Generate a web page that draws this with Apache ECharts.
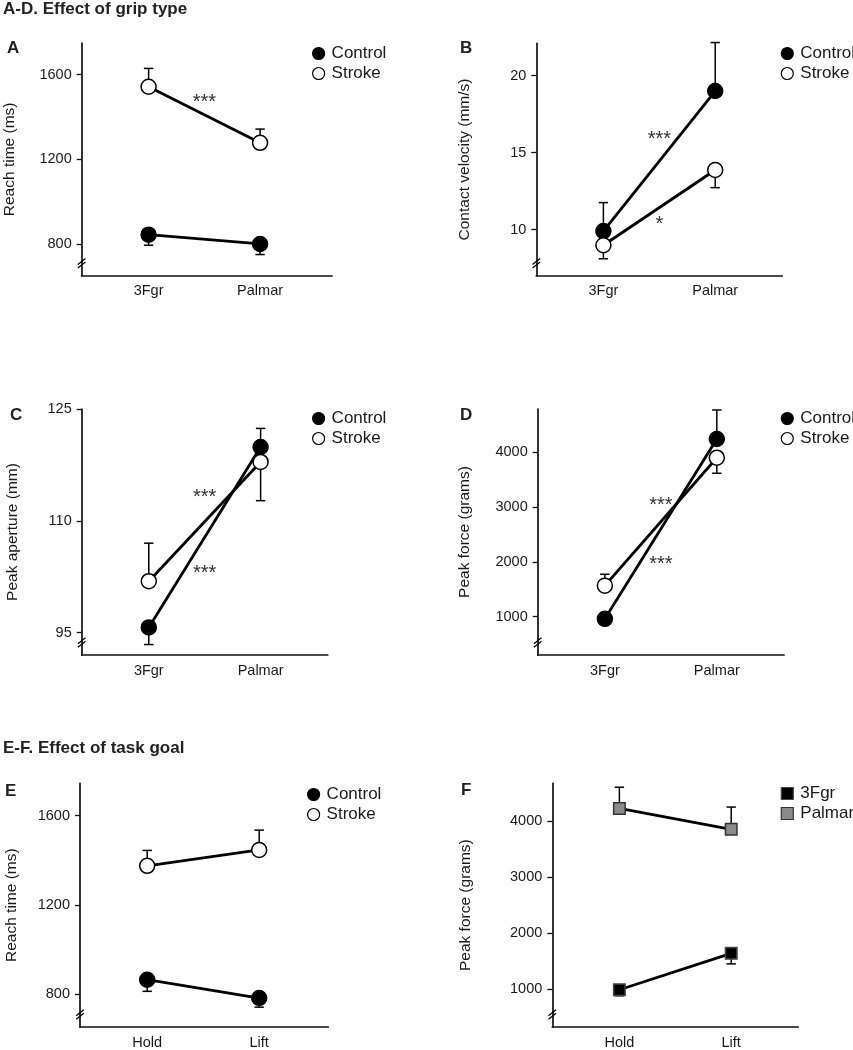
<!DOCTYPE html>
<html><head><meta charset="utf-8">
<script src="https://cdn.jsdelivr.net/npm/echarts@6/dist/echarts.min.js"></script>
<style>html,body{margin:0;padding:0;background:#fff}#c{width:853px;height:1050px}</style>
</head><body><div id="c"></div>
<script>
// ---------- data ----------
const gripCats = ['3Fgr', 'Palmar'];
const goalCats = ['Hold', 'Lift'];

// A. Reach time (ms) by grip
const aControl = [844, 800];    const aControlErr = [794, 750];
const aStroke  = [1543, 1278];  const aStrokeErr  = [1630, 1343];
const aTicks = [800, 1200, 1600];
const aStars = [[0.5, 1490, '***']];

// B. Contact velocity (mm/s) by grip
const bControl = [9.9, 19.0];   const bControlErr = [11.75, 22.15];
const bStroke  = [8.98, 13.87]; const bStrokeErr  = [8.1, 12.72];
const bTicks = [10, 15, 20];
const bStars = [[0.5, 16.15, '***'], [0.5, 10.6, '*']];

// C. Peak aperture (mm) by grip
const cControl = [95.7, 119.9]; const cControlErr = [93.4, 122.4];
const cStroke  = [101.9, 117.9];const cStrokeErr  = [107.0, 112.7];
const cTicks = [95, 110, 125];
const cStars = [[0.5, 113.8, '***'], [0.5, 103.5, '***']];

// D. Peak force (grams) by grip
const dControl = [960, 4243];   const dControlErr = [960, 4772];
const dStroke  = [1566, 3901];  const dStrokeErr  = [1774, 3617];
const dTicks = [1000, 2000, 3000, 4000];
const dStars = [[0.5, 3115, '***'], [0.5, 2036, '***']];

// E. Reach time (ms) by task goal
const eControl = [864, 782];    const eControlErr = [812, 741];
const eStroke  = [1375, 1446];  const eStrokeErr  = [1444, 1535];
const eTicks = [800, 1200, 1600];

// F. Peak force (grams) by task goal, per grip
const f3Fgr   = [988, 1638];    const f3FgrErr   = [880, 1450];
const fPalmar = [4230, 3858];   const fPalmarErr = [4610, 4255];
const fTicks = [1000, 2000, 3000, 4000];

// ---------- layout ----------
const FONT = 'Liberation Sans, Arial, Helvetica, sans-serif';
const TXT = '#1a1a1a';
const panels = [
  {id:'A', left:81.7, top:43,   width:250.3, height:232.7, yMin:650, yMax:1750, xMax:1.645, cats:gripCats, ticks:aTicks, name:'Reach time (ms)', nameGap:64, stars:aStars, letter:[2,35], legend:[307,40],
   series:[{name:'Control', v:aControl, e:aControlErr, kind:'ctrl'},{name:'Stroke', v:aStroke, e:aStrokeErr, kind:'stroke'}]},
  {id:'B', left:536.3, top:43.3, width:246, height:232.4, yMin:7, yMax:22.1, xMax:1.6, cats:gripCats, ticks:bTicks, name:'Contact velocity (mm/s)', nameGap:64, stars:bStars, letter:[455,35], legend:[775.7,40],
   series:[{name:'Control', v:bControl, e:bControlErr, kind:'ctrl'},{name:'Stroke', v:bStroke, e:bStrokeErr, kind:'stroke'}]},
  {id:'C', left:81.7, top:409, width:246, height:246, yMin:92, yMax:125, xMax:1.6, cats:gripCats, ticks:cTicks, name:'Peak aperture (mm)', nameGap:61, stars:cStars, letter:[5,402], legend:[307,405],
   series:[{name:'Control', v:cControl, e:cControlErr, kind:'ctrl'},{name:'Stroke', v:cStroke, e:cStrokeErr, kind:'stroke'}]},
  {id:'D', left:537.7, top:409, width:246.3, height:246, yMin:300, yMax:4790, xMax:1.6, cats:gripCats, ticks:dTicks, name:'Peak force (grams)', nameGap:65, stars:dStars, letter:[455,402], legend:[775.7,405],
   series:[{name:'Control', v:dControl, e:dControlErr, kind:'ctrl'},{name:'Stroke', v:dStroke, e:dStrokeErr, kind:'stroke'}]},
  {id:'E', left:80, top:783.3, width:248.3, height:246, yMin:652, yMax:1745, xMax:1.617, cats:goalCats, ticks:eTicks, name:'Reach time (ms)', nameGap:60, stars:[], letter:[0,778], legend:[302,781],
   series:[{name:'Control', v:eControl, e:eControlErr, kind:'ctrl'},{name:'Stroke', v:eStroke, e:eStrokeErr, kind:'stroke'}]},
  {id:'F', left:552.3, top:783.3, width:246, height:246, yMin:321, yMax:4680, xMax:1.6, cats:goalCats, ticks:fTicks, name:'Peak force (grams)', nameGap:79, stars:[], letter:[456,777], legend:[775.7,780],
   series:[{name:'3Fgr', v:f3Fgr, e:f3FgrErr, kind:'sq3'},{name:'Palmar', v:fPalmar, e:fPalmarErr, kind:'sqP'}]}
];

const styles = {
  ctrl:  {symbol:'circle', size:15, color:'#000', border:'#000'},
  stroke:{symbol:'circle', size:15, color:'#fff', border:'#000'},
  sq3:   {symbol:'rect', size:11.5, color:'#000', border:'#444'},
  sqP:   {symbol:'rect', size:11.5, color:'#8a8a8a', border:'#333'}
};

const option = {
  animation:false,
  backgroundColor:'#fff',
  title:[], grid:[], xAxis:[], yAxis:[], series:[], legend:[]
};

option.title.push({text:'A-D. Effect of grip type', left:-2, top:-4, textStyle:{fontFamily:FONT, fontWeight:'bold', fontSize:17, color:'#222'}});
option.title.push({text:'E-F. Effect of task goal', left:-2, top:735, textStyle:{fontFamily:FONT, fontWeight:'bold', fontSize:17, color:'#222'}});

function errRender(params, api){
  const p0 = api.coord([api.value(0), api.value(1)]);
  const p1 = api.coord([api.value(0), api.value(2)]);
  const cap = 4.7;
  return {type:'group', children:[
    {type:'line', shape:{x1:p0[0], y1:p0[1], x2:p1[0], y2:p1[1]}, style:{stroke:'#000', lineWidth:1.5}},
    {type:'line', shape:{x1:p1[0]-cap, y1:p1[1], x2:p1[0]+cap, y2:p1[1]}, style:{stroke:'#000', lineWidth:1.5}}
  ]};
}

function breakRender(params, api){
  const cs = params.coordSys;
  const x = cs.x, y = cs.y + cs.height - 12.5;
  const mk = (dy) => ({type:'line', shape:{x1:x-3.8, y1:y+3+dy, x2:x+3.8, y2:y-3+dy}, style:{stroke:'#000', lineWidth:1.3}});
  return {type:'group', children:[mk(-1.8), mk(1.8)]};
}

panels.forEach((p, i) => {
  option.grid.push({left:p.left, top:p.top, width:p.width, height:p.height, containLabel:false});
  option.xAxis.push({
    type:'value', gridIndex:i, min:-0.6, max:p.xMax,
    axisLine:{show:true, onZero:false, lineStyle:{color:'#111', width:1.7}},
    axisTick:{show:false}, splitLine:{show:false},
    axisLabel:{customValues:[0, 1], formatter:(v) => p.cats[Math.round(v)], fontFamily:FONT, fontSize:14.5, color:TXT, margin:8}
  });
  option.yAxis.push({
    type:'value', gridIndex:i, min:p.yMin, max:p.yMax,
    name:p.name, nameLocation:'middle', nameGap:p.nameGap, nameRotate:90,
    nameTextStyle:{fontFamily:FONT, fontSize:15.5, color:TXT},
    axisLine:{show:true, onZero:false, lineStyle:{color:'#111', width:1.7}},
    axisTick:{show:true, customValues:p.ticks, length:5, lineStyle:{color:'#111', width:1.3}},
    splitLine:{show:false},
    axisLabel:{customValues:p.ticks, formatter:(v) => String(v), fontFamily:FONT, fontSize:14.5, color:TXT, margin:10}
  });
  option.title.push({text:p.id, left:p.letter[0], top:p.letter[1], textStyle:{fontFamily:FONT, fontWeight:'bold', fontSize:17, color:'#222'}});

  const legendData = [];
  p.series.forEach((s) => {
    const st = styles[s.kind];
    option.series.push({
      type:'custom', name:s.name + ' err', xAxisIndex:i, yAxisIndex:i, z:1,
      renderItem:errRender, clip:false, silent:true,
      data:s.v.map((v, k) => [k, v, s.e[k]])
    });
    option.series.push({
      type:'line', name:s.name, xAxisIndex:i, yAxisIndex:i, z:3,
      data:s.v.map((v, k) => [k, v]),
      symbol:st.symbol, symbolSize:st.size, showAllSymbol:true,
      lineStyle:{color:'#000', width:2.8},
      itemStyle:{color:st.color, borderColor:st.border, borderWidth:1.5},
      emphasis:{disabled:true}
    });
    legendData.push({name:s.name, icon:st.symbol, itemStyle:{color:st.color, borderColor:st.border, borderWidth:1.2}});
  });

  option.legend.push({
    orient:'vertical', left:p.legend[0], top:p.legend[1], itemWidth:12, itemHeight:12, itemGap:3,
    selectedMode:false, data:legendData,
    textStyle:{fontFamily:FONT, fontSize:17, color:TXT, padding:[0,0,0,2]}
  });

  option.series.push({
    type:'custom', xAxisIndex:i, yAxisIndex:i, clip:false, silent:true, z:5,
    renderItem:breakRender, data:[[0, p.yMin]]
  });

  if (p.stars.length) {
    option.series.push({
      type:'custom', xAxisIndex:i, yAxisIndex:i, clip:false, silent:true, z:6,
      data:p.stars.map(s => [s[0], s[1]]),
      renderItem:(params, api) => {
        const pt = api.coord([api.value(0), api.value(1)]);
        return {type:'text', x:pt[0], y:pt[1] + 4.5, style:{text:p.stars[params.dataIndex][2], fontFamily:FONT, fontSize:20, fill:'#333', align:'center', verticalAlign:'middle'}};
      }
    });
  }
});

const chart = echarts.init(document.getElementById('c'), null, {renderer:'canvas'});
chart.setOption(option);
</script>
</body></html>
